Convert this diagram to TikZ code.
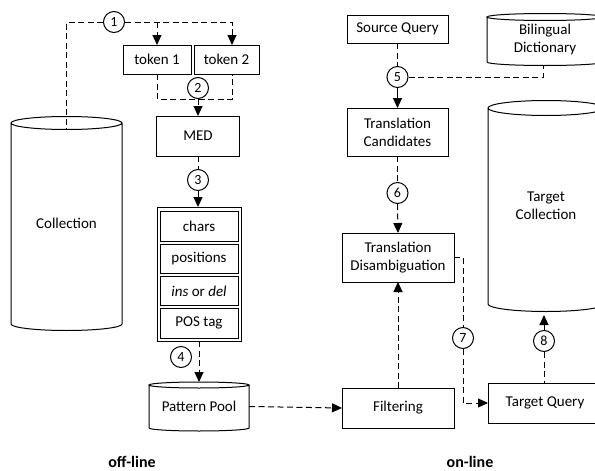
\documentclass[tikz,border=0pt]{standalone}
\usepackage{fontspec}
\setmainfont{Carlito}
\usetikzlibrary{calc,arrows.meta}
\newcommand{\drum}[2]{\draw[line width=1pt] let \p1=(#1.north west), \p2=(#1.south east) in (\p1) -- (\x1,\y2) arc[start angle=180, end angle=360, x radius={(\x2-\x1)/2}, y radius=#2pt] -- (\x2,\y1) (\x1/2+\x2/2,\y1) ellipse[x radius={(\x2-\x1)/2}, y radius=#2pt];}

\begin{document}
\begin{tikzpicture}[x=1pt, y=-1pt,
		box/.style={draw, line width=1pt, inner sep=0pt, outer sep=0pt, align=center, font=\fontsize{15}{18}\selectfont},
		body/.style={inner sep=0pt, outer sep=0pt, align=center, font=\fontsize{15}{18}\selectfont},
		num/.style={draw, circle, fill=white, line width=1pt, minimum size=21pt, inner sep=0pt, font=\fontsize{14}{14}\selectfont},
		link/.style={line width=1pt, dash pattern=on 6pt off 3.5pt},
		tip/.style={-{Triangle[width=9pt,length=10pt]}},
		side/.style={inner sep=0pt, font=\bfseries\fontsize{16}{16}\selectfont}]
			%%%%% START %%%%%
			
			\useasboundingbox (0,0) rectangle (595,471);
			\clip (0,0) rectangle (595,471);
			
			% off-line
			\node[body, minimum width=111pt, minimum height=201pt] (coll) at (66.5,223.5) {Collection};
			\drum{coll}{6.5}
			
			\node[box, minimum width=68pt, minimum height=29pt] (tok1) at (157,59.5) {token 1};
			\node[box, minimum width=65pt, minimum height=29pt] (tok2) at (226.5,59.5) {token 2};
			\node[box, minimum width=83pt, minimum height=40pt] (med) at (198,136) {MED};
			
			\node[box, minimum width=84pt, minimum height=134pt] (feat) at (199,274) {};
			\node[box, minimum width=78pt, minimum height=29.5pt] (chars) at (199,226.5) {chars};
			\node[box, minimum width=78pt, minimum height=29.5pt] (pos) at (199,258.8) {positions};
			\node[box, minimum width=78pt, minimum height=29.5pt] (insdel) at (199,291.1) {\textit{ins} or \textit{del}};
			\node[box, minimum width=78pt, minimum height=29.5pt] (postag) at (199,323.4) {POS tag};
			
			\node[body, minimum width=100pt, minimum height=43pt] (pool) at (199,406.5) {Pattern Pool};
			\drum{pool}{3}
			
			\node[num] (n1) at (114,22) {1};
			\node[num] (n2) at (198,88) {2};
			\node[num] (n3) at (198,180) {3};
			\node[num] (n4) at (181,357) {4};
			
			\draw[link] (n1.west) -| ([yshift=-6.5pt]coll.north);
			\draw[link, tip] (n1.east) -| ([xshift=5.5pt]tok2.north);
			\draw[link, tip] (n1.east -| tok1.north) -- (tok1.north);
			\draw[link] (tok1.south) |- (n2.south) -| ([xshift=5.5pt]tok2.south);
			\draw[link, tip] (n2.south) -- (med.north);
			\draw[link] (med.south) -- (n3.north);
			\draw[link, tip] (n3.south) -- (n3.south |- feat.north);
			\draw[link, tip] (feat.south) -- ([yshift=3pt]pool.north);
			
			% on-line
			\node[box, minimum width=101pt, minimum height=28pt] (src) at (397.5,29) {Source Query};
			\node[body, minimum width=116pt, minimum height=45pt] (dict) at (545,39.5) {Bilingual\\Dictionary};
			\drum{dict}{3.5}
			\node[box, minimum width=101pt, minimum height=48pt] (cand) at (397.5,132) {Translation\\Candidates};
			\node[box, minimum width=112pt, minimum height=49pt] (disamb) at (398,257.5) {Translation\\Disambiguation};
			\node[box, minimum width=112pt, minimum height=40pt] (filt) at (398,408) {Filtering};
			\node[body, minimum width=116pt, minimum height=196pt] (tcoll) at (546,206) {Target\\Collection};
			\drum{tcoll}{7.5}
			\node[box, minimum width=114pt, minimum height=40pt] (tq) at (545,403) {Target Query};
			
			\node[num] (n5) at (397.5,77) {5};
			\node[num] (n6) at (397.5,193) {6};
			\node[num] (n7) at (463,338) {7};
			\node[num] (n8) at (544,341) {8};
			
			\draw[link, tip] (pool.east) -- (filt.west);
			\draw[link] (src.south) -- (n5.north);
			\draw[line width=1pt, tip] (n5.south) -- (cand.north);
			\draw[link] (n5.east) -| ([xshift=-2pt,yshift=-3.5pt]dict.south);
			\draw[link] (cand.south) -- (n6.north);
			\draw[link, tip] (n6.south) -- (disamb.north);
			\draw[link, tip] (filt.north) -- (disamb.south);
			\draw[link] (disamb.east) -| (n7.north);
			\draw[link, tip] (n7.south) |- (tq.west);
			\draw[link] (n8.south) -- (n8 |- tq.north);
			\draw[link, tip] (n8.north) -- ([yshift=-11pt]n8 |- tcoll.south);
			
			\node[side] (offl) at (132,462) {off-line};
			\node[side] (onl) at (470,462) {on-line};
			
			%%%%% END %%%%%
\end{tikzpicture}
\end{document}
